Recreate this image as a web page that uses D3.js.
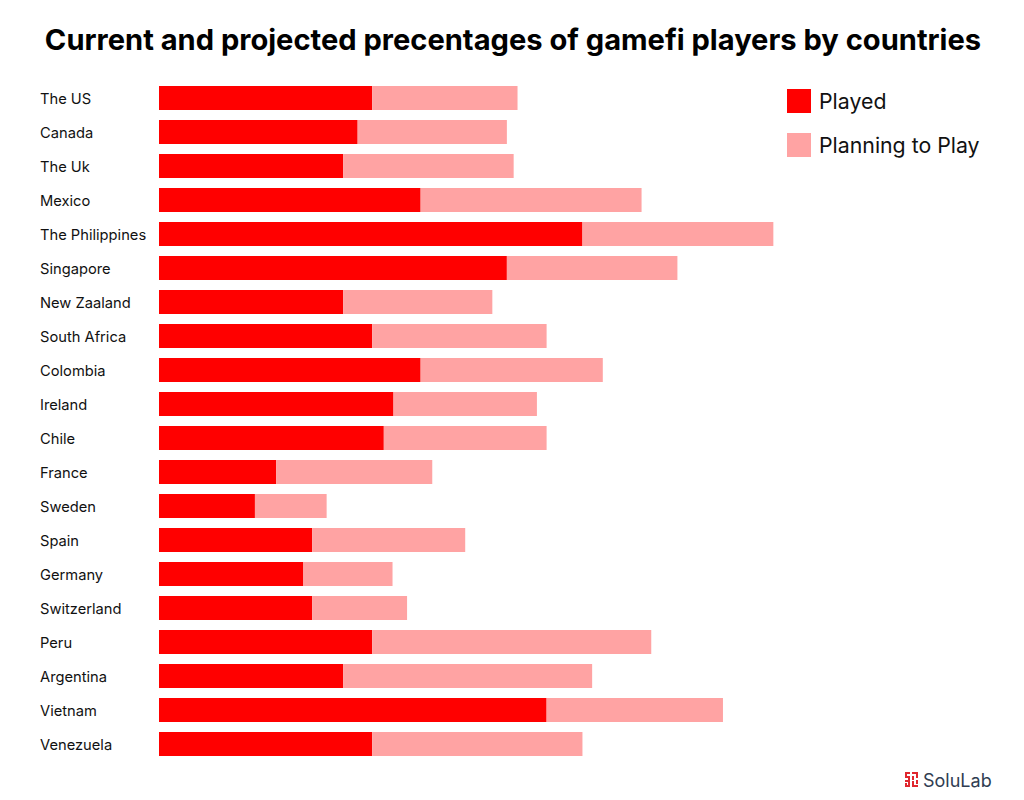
<!DOCTYPE html>
<html>
<head>
<meta charset="utf-8">
<script src="https://cdn.jsdelivr.net/npm/d3@7"></script>
<style>
  html, body { margin: 0; padding: 0; background: #fff; }
  text { font-family: Inter, "Noto Sans", sans-serif; fill: #111; }
</style>
</head>
<body>
<svg id="chart" width="1024" height="800"></svg>
<script>
// values (percent of respondents)
const countries = ["The US", "Canada", "The Uk", "Mexico", "The Philippines", "Singapore", "New Zaaland",
  "South Africa", "Colombia", "Ireland", "Chile", "France", "Sweden", "Spain", "Germany", "Switzerland",
  "Peru", "Argentina", "Vietnam", "Venezuela"];
const played = [22, 20.5, 19, 27, 43.7, 35.9, 19, 22, 27, 24.2, 23.2, 12.1, 9.9, 15.8, 14.9, 15.8, 22, 19, 40, 22];
const planning = [15, 15.4, 17.6, 22.8, 19.7, 17.6, 15.4, 18, 18.8, 14.8, 16.8, 16.1, 7.4, 15.8, 9.2, 9.8, 28.8, 25.7, 18.2, 21.7];
const seriesNames = ["Played", "Planning to Play"];
const seriesColors = ["#ff0000", "#ffa3a3"];

const svg = d3.select("#chart");

const x = d3.scaleLinear().domain([0, 100]).range([159, 1128]);
const y = d3.scaleBand().domain(countries).range([81, 761]).paddingInner(10 / 34).paddingOuter(5 / 34);

svg.append("text")
  .attr("x", 513).attr("y", 50)
  .attr("text-anchor", "middle")
  .attr("font-size", 29.1).attr("font-weight", 700)
  .style("fill", "#000")
  .text("Current and projected precentages of gamefi players by countries");

// country labels
svg.selectAll(".country")
  .data(countries)
  .join("text")
  .attr("class", "country")
  .attr("x", 40)
  .attr("y", d => y(d) + y.bandwidth() / 2 + 1)
  .attr("dy", "0.35em")
  .attr("font-size", 14.7)
  .text(d => d);

// played bars
svg.selectAll(".played")
  .data(countries)
  .join("rect")
  .attr("class", "played")
  .attr("x", x(0))
  .attr("y", d => y(d))
  .attr("width", (d, i) => x(played[i]) - x(0))
  .attr("height", y.bandwidth())
  .attr("fill", seriesColors[0]);

// planning bars, stacked after played
svg.selectAll(".planning")
  .data(countries)
  .join("rect")
  .attr("class", "planning")
  .attr("x", (d, i) => x(played[i]))
  .attr("y", d => y(d))
  .attr("width", (d, i) => x(played[i] + planning[i]) - x(played[i]))
  .attr("height", y.bandwidth())
  .attr("fill", seriesColors[1]);

// legend
const legend = svg.selectAll(".legend")
  .data(seriesNames)
  .join("g")
  .attr("class", "legend")
  .attr("transform", (d, i) => `translate(787,${89 + i * 44})`);
legend.append("rect")
  .attr("width", 24).attr("height", 24)
  .attr("fill", (d, i) => seriesColors[i]);
legend.append("text")
  .attr("x", 32).attr("y", 12).attr("dy", "0.36em")
  .attr("font-size", 21.3)
  .text(d => d);

// SoluLab logo
const logo = svg.append("g").attr("transform", "translate(905,772)");
logo.selectAll("rect")
  .data([[0,0,5,2],[0,0,2,6],[0,4,5,2],[3,4,2,4],[0,8,5,2],[0,11,2,4],[0,13,5,2],[3,10,2,5],
         [7,0,6,2],[11,0,2,6],[7,4,2,4],[7,9,2,6],[7,13,6,2],[11,8,2,4]])
  .join("rect")
  .attr("x", d => d[0]).attr("y", d => d[1])
  .attr("width", d => d[2]).attr("height", d => d[3])
  .attr("fill", "#e0282e");
svg.append("text")
  .attr("x", 923).attr("y", 787)
  .attr("font-size", 18)
  .style("fill", "#2f3d52")
  .text("SoluLab");
</script>
</body>
</html>
